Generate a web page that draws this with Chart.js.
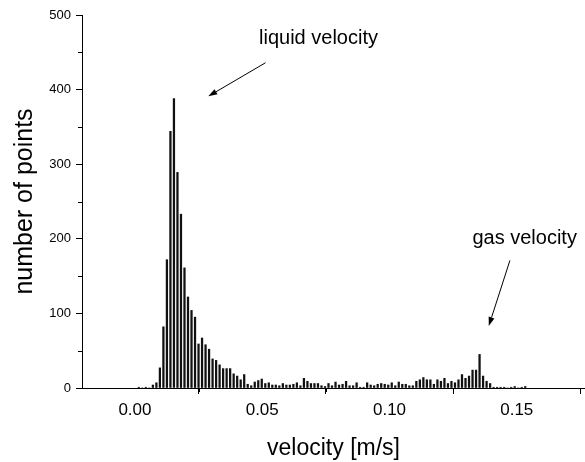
<!DOCTYPE html>
<html><head><meta charset="utf-8">
<script src="https://cdn.jsdelivr.net/npm/chart.js@4.4.1/dist/chart.umd.min.js"></script>
<style>html,body{margin:0;padding:0;background:#fff;overflow:hidden}</style>
</head><body>
<canvas id="c" width="585" height="462"></canvas>
<script>
const velocity = [0.00152,0.00290,0.00428,0.00566,0.00704,0.00842,0.00980,0.01118,0.01256,0.01394,
0.01532,0.01670,0.01808,0.01946,0.02084,0.02222,0.02360,0.02498,0.02636,0.02774,
0.02912,0.03050,0.03188,0.03326,0.03464,0.03602,0.03740,0.03878,0.04016,0.04154,
0.04292,0.04430,0.04568,0.04706,0.04844,0.04982,0.05120,0.05258,0.05396,0.05534,
0.05672,0.05810,0.05948,0.06086,0.06224,0.06362,0.06500,0.06638,0.06776,0.06914,
0.07052,0.07190,0.07328,0.07466,0.07604,0.07742,0.07880,0.08018,0.08156,0.08294,
0.08432,0.08570,0.08708,0.08846,0.08984,0.09122,0.09260,0.09398,0.09536,0.09674,
0.09812,0.09950,0.10088,0.10226,0.10364,0.10502,0.10640,0.10778,0.10916,0.11054,
0.11192,0.11330,0.11468,0.11606,0.11744,0.11882,0.12020,0.12158,0.12296,0.12434,
0.12572,0.12710,0.12848,0.12986,0.13124,0.13262,0.13400,0.13538,0.13676,0.13814,
0.13952,0.14090,0.14228,0.14366,0.14504,0.14642,0.14780,0.14918,0.15056,0.15194,
0.15332];
const counts = [1,0,1,0,4,7,27,82,172,344,
388,289,233,161,122,104,95,59,67,58,
52,39,37,31,26,26,26,19,16,11,
18,5,3,8,10,12,6,7,4,4,
3,6,4,4,5,7,3,13,9,6,
6,6,3,2,6,3,8,4,5,9,
3,3,7,1,1,7,4,3,5,6,
5,4,7,3,8,5,5,3,3,9,
11,14,11,11,5,11,9,13,6,9,
7,11,18,13,16,24,24,45,16,9,
6,1,1,1,1,0,1,2,0,1,
2];
const xTickValues = [0, 0.05, 0.10, 0.15];
const xMinorTicks = [0.025, 0.075, 0.125, 0.175];
const yTickValues = [0, 100, 200, 300, 400, 500];
const yMinorTicks = [50, 150, 250, 350, 450];
const xTitle = 'velocity [m/s]';
const yTitle = 'number of points';
const notes = [
  {text: 'liquid velocity', tx: 0.0721, ty: 468, x0: 0.0513, y0: 436, x1: 0.0288, y1: 391},
  {text: 'gas velocity', tx: 0.1531, ty: 201, x0: 0.1473, y0: 171, x1: 0.1390, y1: 83}
];

const FONT = "'Liberation Sans', Arial, Helvetica, sans-serif";

const extras = {
  id: 'extras',
  afterDraw(chart) {
    const ctx = chart.ctx, xs = chart.scales.x, ys = chart.scales.y;
    const a = chart.chartArea;
    ctx.save();
    ctx.strokeStyle = '#000';
    ctx.lineWidth = 1;
    ctx.beginPath();
    xMinorTicks.forEach(v => {
      const px = Math.round(xs.getPixelForValue(v)) + 0.5;
      ctx.moveTo(px, a.bottom); ctx.lineTo(px, a.bottom + 4);
    });
    yMinorTicks.forEach(v => {
      const py = Math.round(ys.getPixelForValue(v)) + 0.5;
      ctx.moveTo(a.left - 4, py); ctx.lineTo(a.left, py);
    });
    ctx.stroke();
    ctx.fillStyle = '#000';
    ctx.font = '20px ' + FONT;
    ctx.textAlign = 'center';
    ctx.textBaseline = 'middle';
    notes.forEach(n => {
      ctx.fillText(n.text, xs.getPixelForValue(n.tx), ys.getPixelForValue(n.ty));
      const x0 = xs.getPixelForValue(n.x0), y0 = ys.getPixelForValue(n.y0);
      const x1 = xs.getPixelForValue(n.x1), y1 = ys.getPixelForValue(n.y1);
      const ang = Math.atan2(y1 - y0, x1 - x0);
      const L = 9, W = 3;
      const bx = x1 - L * Math.cos(ang), by = y1 - L * Math.sin(ang);
      ctx.beginPath();
      ctx.moveTo(x0, y0); ctx.lineTo(bx, by);
      ctx.stroke();
      ctx.beginPath();
      ctx.moveTo(x1, y1);
      ctx.lineTo(bx + W * Math.sin(ang), by - W * Math.cos(ang));
      ctx.lineTo(bx - W * Math.sin(ang), by + W * Math.cos(ang));
      ctx.closePath();
      ctx.fill();
    });
    ctx.restore();
  }
};

new Chart(document.getElementById('c'), {
  type: 'bar',
  data: {
    datasets: [{
      data: velocity.map((v, i) => ({x: v, y: counts[i]})),
      backgroundColor: '#111',
      borderWidth: 0,
      barThickness: 1.6
    }]
  },
  options: {
    responsive: false,
    animation: false,
    devicePixelRatio: 1,
    layout: {padding: {top: 15, right: 0, left: 0, bottom: 0}},
    plugins: {legend: {display: false}, tooltip: {enabled: false}},
    scales: {
      x: {
        type: 'linear',
        position: 'bottom',
        min: -0.0208,
        max: 0.1768,
        offset: false,
        afterBuildTicks: s => { s.ticks = xTickValues.map(v => ({value: v})); },
        afterFit: s => { s.height = 74; },
        grid: {display: true, drawOnChartArea: false, drawTicks: true, tickLength: 6, tickColor: '#000', color: '#000'},
        border: {display: true, color: '#000', width: 1},
        ticks: {color: '#000', font: {family: FONT, size: 17}, padding: 6, maxRotation: 0, autoSkip: false,
          callback: v => Number(v).toFixed(2)},
        title: {display: true, text: xTitle, color: '#000', font: {family: FONT, size: 23}, padding: {top: 0, bottom: 0}}
      },
      y: {
        type: 'linear',
        min: 0,
        max: 500,
        afterBuildTicks: s => { s.ticks = yTickValues.map(v => ({value: v})); },
        afterFit: s => { s.width = 82; },
        grid: {display: true, drawOnChartArea: false, drawTicks: true, tickLength: 6, tickColor: '#000', color: '#000'},
        border: {display: true, color: '#000', width: 1},
        ticks: {color: '#000', font: {family: FONT, size: 13}, padding: 5, autoSkip: false},
        title: {display: true, text: yTitle, color: '#000', font: {family: FONT, size: 25}, padding: {top: 10, bottom: 0}}
      }
    }
  },
  plugins: [extras]
});
</script>
</body></html>
